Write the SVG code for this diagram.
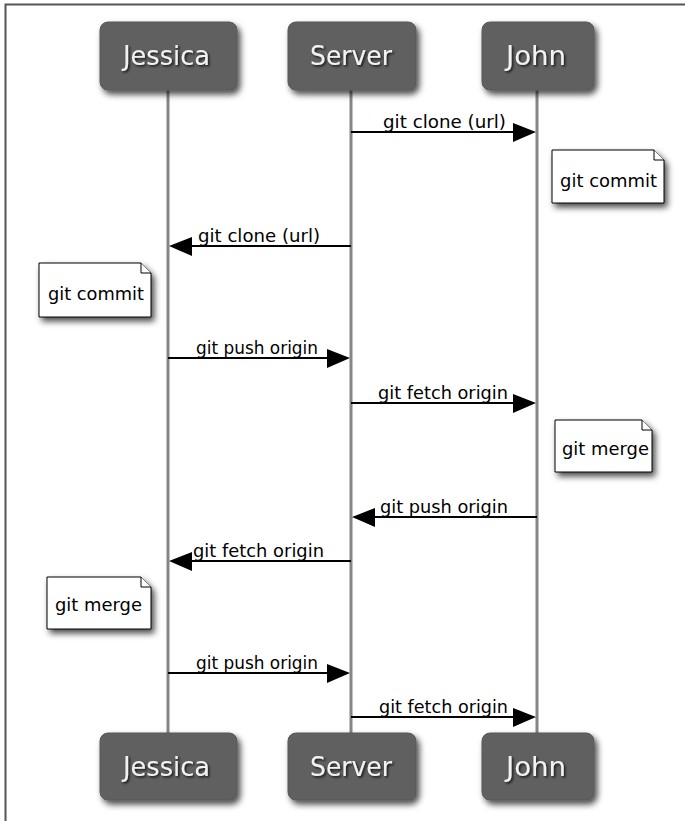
<svg xmlns="http://www.w3.org/2000/svg" width="685" height="821" viewBox="0 0 685 821">
  <defs>
    <filter id="shadow" x="-20%" y="-20%" width="150%" height="160%">
      <feDropShadow dx="3" dy="4" stdDeviation="3" flood-color="#000" flood-opacity="0.7"/>
    </filter>
    <filter id="tshadow" x="-10%" y="-20%" width="130%" height="150%">
      <feDropShadow dx="1.5" dy="1.5" stdDeviation="0.8" flood-color="#000" flood-opacity="0.8"/>
    </filter>
  </defs>
  <style>
    .actor { fill: #616161; stroke: #575757; stroke-width: 1; }
    .atext { font-family: "DejaVu Sans Condensed", "DejaVu Sans", "Liberation Sans", sans-serif; font-size: 27px; fill: #f2f2f2; }
    .life { stroke: #868686; stroke-width: 3; fill: none; }
    .msg { stroke: #000; stroke-width: 2; fill: none; }
    .head { fill: #000; }
    .label { font-family: "DejaVu Sans", "Liberation Sans", sans-serif; font-size: 17px; fill: #000; }
    .note { fill: #fff; stroke: #000; stroke-width: 1; }
    .fold { fill: #fff; stroke: #000; stroke-width: 1; }
    .ntext { font-family: "DejaVu Sans", "Liberation Sans", sans-serif; font-size: 18px; fill: #000; }
  </style>
  <rect x="0" y="0" width="685" height="821" fill="#fff"/>
  <path d="M5.5 821 V4.5 H685" fill="none" stroke="#555" stroke-width="2"/>

  <g id="lifelines">
    <line class="life" x1="168" y1="90" x2="168" y2="733"/>
    <line class="life" x1="351" y1="90" x2="351" y2="733"/>
    <line class="life" x1="537" y1="90" x2="537" y2="733"/>
  </g>

  <g id="jessica-top">
    <rect class="actor" x="100" y="22" width="137" height="68" rx="8" filter="url(#shadow)"/>
    <text class="atext" x="123" y="65" textLength="87" lengthAdjust="spacingAndGlyphs" filter="url(#tshadow)">Jessica</text>
  </g>
  <g id="server-top">
    <rect class="actor" x="288" y="22" width="128" height="68" rx="8" filter="url(#shadow)"/>
    <text class="atext" x="310" y="65" textLength="82" lengthAdjust="spacingAndGlyphs" filter="url(#tshadow)">Server</text>
  </g>
  <g id="john-top">
    <rect class="actor" x="482" y="22" width="112" height="68" rx="8" filter="url(#shadow)"/>
    <text class="atext" x="506" y="65" textLength="60" lengthAdjust="spacingAndGlyphs" filter="url(#tshadow)">John</text>
  </g>
  <g id="jessica-bottom">
    <rect class="actor" x="100" y="733" width="137" height="67" rx="8" filter="url(#shadow)"/>
    <text class="atext" x="123" y="776" textLength="87" lengthAdjust="spacingAndGlyphs" filter="url(#tshadow)">Jessica</text>
  </g>
  <g id="server-bottom">
    <rect class="actor" x="288" y="733" width="128" height="67" rx="8" filter="url(#shadow)"/>
    <text class="atext" x="310" y="776" textLength="82" lengthAdjust="spacingAndGlyphs" filter="url(#tshadow)">Server</text>
  </g>
  <g id="john-bottom">
    <rect class="actor" x="482" y="733" width="112" height="67" rx="8" filter="url(#shadow)"/>
    <text class="atext" x="506" y="776" textLength="60" lengthAdjust="spacingAndGlyphs" filter="url(#tshadow)">John</text>
  </g>

  <g id="note-john-commit">
    <path class="note" d="M552 150 H654 L664 160 V203 H552 Z" filter="url(#shadow)"/>
    <path class="fold" d="M654 150 V160 H664"/>
    <text class="ntext" x="560" y="187" textLength="97" lengthAdjust="spacingAndGlyphs">git commit</text>
  </g>
  <g id="note-jessica-commit">
    <path class="note" d="M39 263 H141 L151 273 V317 H39 Z" filter="url(#shadow)"/>
    <path class="fold" d="M141 263 V273 H151"/>
    <text class="ntext" x="48" y="300" textLength="96" lengthAdjust="spacingAndGlyphs">git commit</text>
  </g>
  <g id="note-john-merge">
    <path class="note" d="M555 420 H642 L652 430 V472 H555 Z" filter="url(#shadow)"/>
    <path class="fold" d="M642 420 V430 H652"/>
    <text class="ntext" x="562" y="455" textLength="87" lengthAdjust="spacingAndGlyphs">git merge</text>
  </g>
  <g id="note-jessica-merge">
    <path class="note" d="M47 577 H141 L151 587 V629 H47 Z" filter="url(#shadow)"/>
    <path class="fold" d="M141 577 V587 H151"/>
    <text class="ntext" x="55" y="611" textLength="87" lengthAdjust="spacingAndGlyphs">git merge</text>
  </g>

  <g id="connectors">
    <line class="msg" x1="351" y1="132" x2="516" y2="132"/>
    <polygon class="head" points="536,132 513,123 513,142"/>
    <text class="label" x="383" y="128" textLength="123" lengthAdjust="spacingAndGlyphs">git clone (url)</text>

    <line class="msg" x1="351" y1="246" x2="188" y2="246"/>
    <polygon class="head" points="169,246 192,237 192,256"/>
    <text class="label" x="198" y="242" textLength="122" lengthAdjust="spacingAndGlyphs">git clone (url)</text>

    <line class="msg" x1="168" y1="358" x2="332" y2="358"/>
    <polygon class="head" points="350,358 327,349 327,368"/>
    <text class="label" x="196" y="354" textLength="122" lengthAdjust="spacingAndGlyphs">git push origin</text>

    <line class="msg" x1="351" y1="403" x2="516" y2="403"/>
    <polygon class="head" points="536,403 513,394 513,413"/>
    <text class="label" x="378" y="399" textLength="130" lengthAdjust="spacingAndGlyphs">git fetch origin</text>

    <line class="msg" x1="537" y1="517" x2="372" y2="517"/>
    <polygon class="head" points="352,517 375,508 375,527"/>
    <text class="label" x="380" y="513" textLength="128" lengthAdjust="spacingAndGlyphs">git push origin</text>

    <line class="msg" x1="351" y1="561" x2="188" y2="561"/>
    <polygon class="head" points="169,561 192,552 192,571"/>
    <text class="label" x="193" y="557" textLength="131" lengthAdjust="spacingAndGlyphs">git fetch origin</text>

    <line class="msg" x1="168" y1="673" x2="332" y2="673"/>
    <polygon class="head" points="350,673 327,664 327,683"/>
    <text class="label" x="196" y="669" textLength="122" lengthAdjust="spacingAndGlyphs">git push origin</text>

    <line class="msg" x1="351" y1="717" x2="516" y2="717"/>
    <polygon class="head" points="536,717 513,708 513,727"/>
    <text class="label" x="379" y="713" textLength="129" lengthAdjust="spacingAndGlyphs">git fetch origin</text>
  </g>
</svg>
